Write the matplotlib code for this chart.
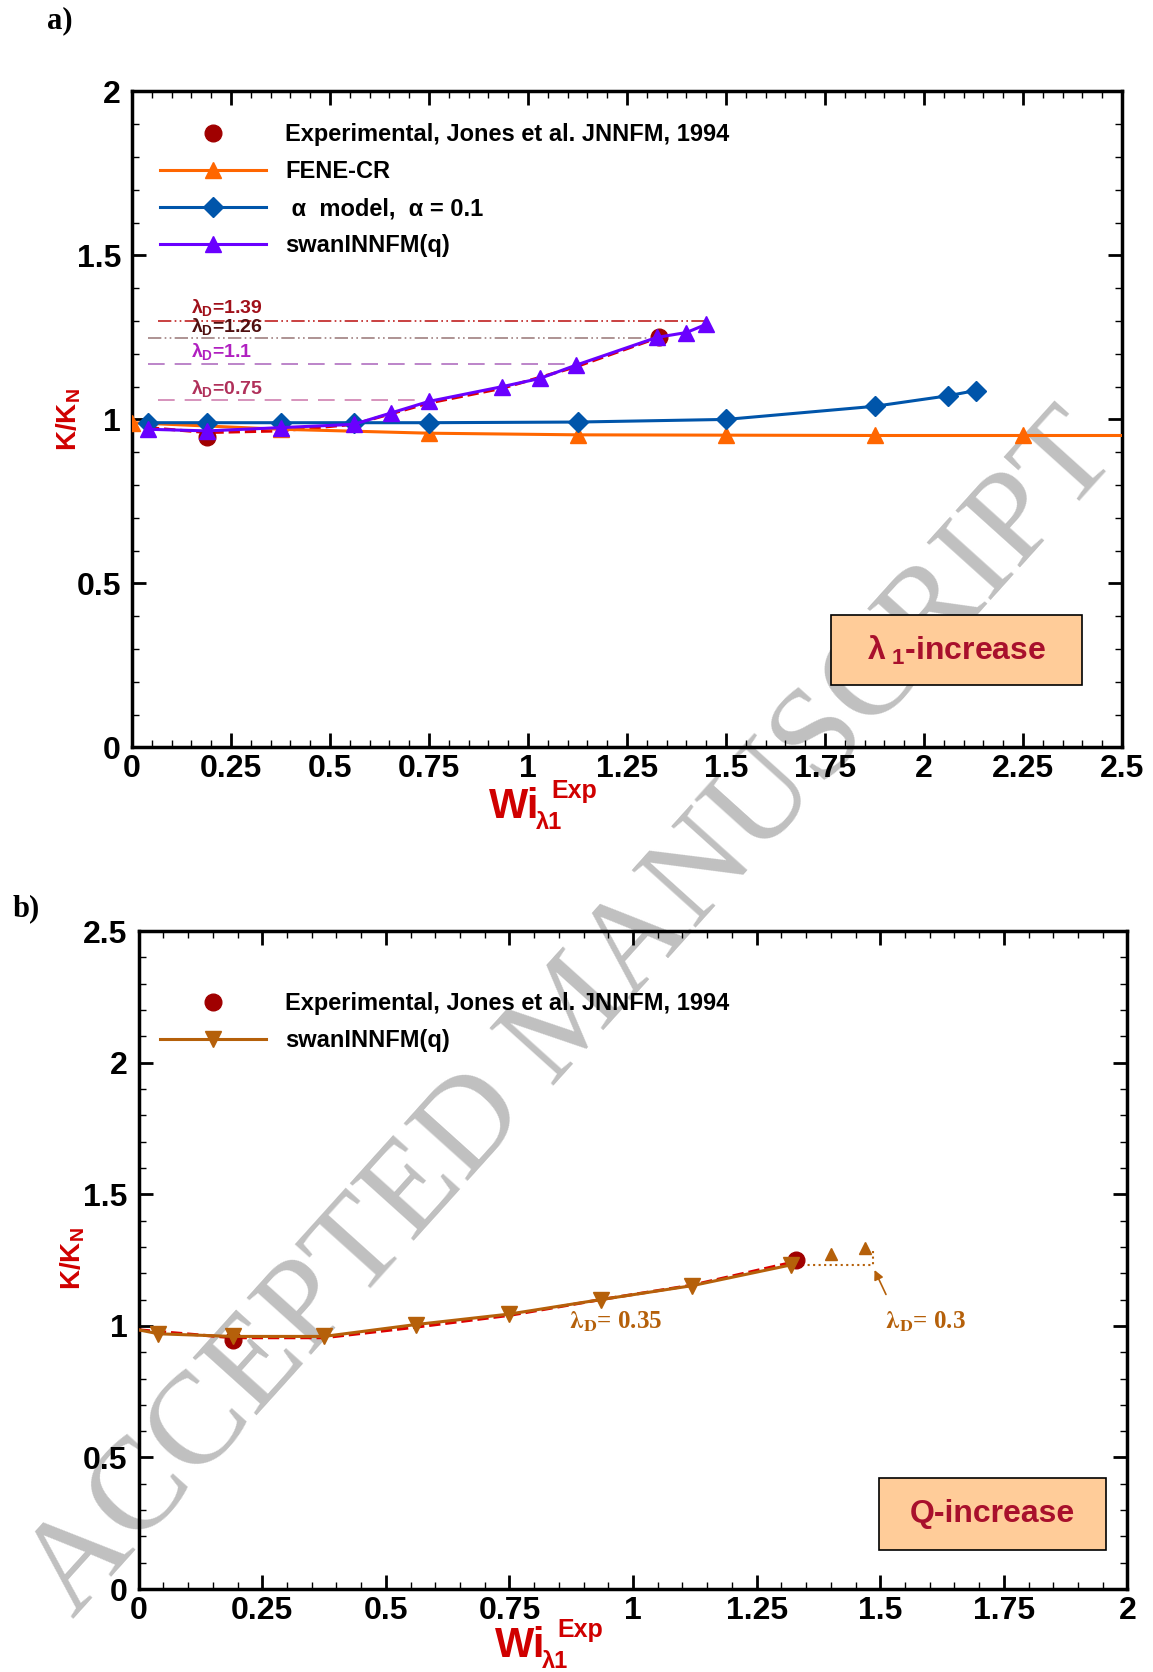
import matplotlib
matplotlib.use('Agg')
import matplotlib.pyplot as plt
from matplotlib.ticker import MultipleLocator, FuncFormatter
from matplotlib.patches import Rectangle

plt.rcParams['font.family'] = ['Liberation Sans', 'DejaVu Sans']
plt.rcParams['font.weight'] = 'bold'
plt.rcParams['mathtext.fontset'] = 'custom'
plt.rcParams['mathtext.rm'] = 'Liberation Sans:bold'
plt.rcParams['mathtext.it'] = 'Liberation Sans:bold'
plt.rcParams['mathtext.bf'] = 'Liberation Sans:bold'

# ---- data, panel a) ----
exp_x = [0.19, 1.33]
exp_y = [0.945, 1.25]

fene_x = [0.0, 0.375, 0.75, 1.125, 1.5, 1.875, 2.25, 2.5]
fene_y = [0.99, 0.97, 0.958, 0.953, 0.952, 0.951, 0.951, 0.951]

alpha_x = [0.04, 0.19, 0.375, 0.56, 0.75, 1.125, 1.5, 1.875, 2.06, 2.13]
alpha_y = [0.99, 0.99, 0.99, 0.99, 0.99, 0.992, 1.0, 1.04, 1.072, 1.088]

swan_x = [0.04, 0.19, 0.375, 0.56, 0.655, 0.75, 0.935, 1.03, 1.12, 1.325, 1.40, 1.45]
swan_y = [0.97, 0.965, 0.975, 0.985, 1.02, 1.055, 1.10, 1.125, 1.165, 1.25, 1.265, 1.29]

fit_a_x = [0.04, 0.19, 0.375, 0.56, 0.75, 0.935, 1.12, 1.33]
fit_a_y = [0.975, 0.96, 0.965, 0.985, 1.05, 1.095, 1.16, 1.25]

lam_labels = [r'$\lambda_D$=1.39', r'$\lambda_D$=1.26', r'$\lambda_D$=1.1', r'$\lambda_D$=0.75']
lam_level = [1.30, 1.247, 1.17, 1.059]
lam_x0 = [0.065, 0.04, 0.04, 0.066]
lam_x1 = [1.45, 1.30, 1.11, 0.73]
lam_text_y = [1.31, 1.25, 1.175, 1.062]

# ---- data, panel b) ----
swanb_x = [0.0, 0.04, 0.19, 0.375, 0.56, 0.75, 0.935, 1.12, 1.32]
swanb_y = [0.985, 0.97, 0.96, 0.96, 1.005, 1.045, 1.10, 1.153, 1.232]

fit_b_x = [0.0, 0.19, 0.375, 0.56, 0.75, 0.935, 1.12, 1.33]
fit_b_y = [0.985, 0.955, 0.955, 0.995, 1.04, 1.10, 1.155, 1.245]

qtip_x = [1.40, 1.47]
qtip_y = [1.272, 1.295]

fig = plt.figure(figsize=(11.53, 16.72), dpi=100)
ax1 = fig.add_axes([0.1145, 0.553, 0.8587, 0.3923])
ax2 = fig.add_axes([0.1203, 0.0496, 0.8575, 0.3935])


def style(ax, xmax, ymax):
    ax.set_facecolor('none')
    ax.set_xlim(0, xmax)
    ax.set_ylim(0, ymax)
    ax.xaxis.set_major_locator(MultipleLocator(0.25))
    ax.xaxis.set_minor_locator(MultipleLocator(0.05))
    ax.yaxis.set_major_locator(MultipleLocator(0.5))
    ax.yaxis.set_minor_locator(MultipleLocator(0.1))
    fmt = FuncFormatter(lambda v, p: '%g' % v)
    ax.xaxis.set_major_formatter(fmt)
    ax.yaxis.set_major_formatter(fmt)
    ax.tick_params(which='both', direction='in', top=True, right=True, labelsize=23)
    ax.tick_params(which='major', length=10, width=2)
    ax.tick_params(which='minor', length=5, width=1)
    ax.tick_params(axis='x', pad=5)
    ax.tick_params(axis='y', pad=8)
    for s in ax.spines.values():
        s.set_linewidth(2.5)


def wi_label(ax, dy):
    # Wi with subscript lambda1 and superscript Exp, placed piece by piece
    c = '#d00000'
    ax.text(0.3604, -0.108 + dy, 'Wi', transform=ax.transAxes, color=c, fontsize=30,
            va='baseline')
    ax.text(0.4078, -0.124 + dy, '\u03bb1', transform=ax.transAxes, color=c, fontsize=17,
            va='baseline')
    ax.text(0.4232, -0.077 + dy, 'Exp', transform=ax.transAxes, color=c, fontsize=18,
            va='baseline')


red = '#a00000'
brown = '#b5600a'

# panel a
style(ax1, 2.5, 2)
for lev, x0, x1, lab, ty, ls, lc, tc in zip(
        lam_level, lam_x0, lam_x1, lam_labels, lam_text_y,
        [(0, (8, 2, 1, 2, 1, 2)), (0, (8, 2, 1, 2, 1, 2)), (0, (10, 6)), (0, (10, 6))],
        ['#c02020', '#a08080', '#b070c0', '#d080b0'],
        ['#a0101a', '#501010', '#b020c0', '#b0305a']):
    ax1.plot([x0, x1], [lev, lev], ls=ls, color=lc, lw=1.2, zorder=2)
    ax1.text(0.15, ty, lab, color=tc, fontsize=14, va='bottom')

ax1.plot(fit_a_x, fit_a_y, '--', color='#dd0000', lw=2.2, zorder=3)
ax1.plot(exp_x, exp_y, 'o', color=red, ms=12, zorder=4,
         label='Experimental, Jones et al. JNNFM, 1994')
ax1.plot(fene_x, fene_y, '-^', color='#ff6600', lw=2.2, ms=12, markevery=list(range(7)),
         zorder=5, label='FENE-CR')
ax1.plot(alpha_x, alpha_y, '-D', color='#0055aa', lw=2.2, ms=10, zorder=5,
         label=' \u03b1  model,  \u03b1 = 0.1')
ax1.plot(swan_x, swan_y, '-^', color='#6a00ff', lw=2.2, ms=11, zorder=6,
         label='swanINNFM(q)')
ax1.legend(loc='upper left', bbox_to_anchor=(0.028, 0.952), frameon=False, fontsize=17,
           handlelength=4.5, handletextpad=0.8, labelspacing=0.6,
           borderpad=0, borderaxespad=0)

ax1.add_patch(Rectangle((1.765, 0.189), 0.635, 0.214, facecolor='#ffcc99',
                        edgecolor='black', lw=1.2, zorder=7))
ax1.text(2.0825, 0.296, r'$\lambda_{\ 1}$-increase', color='#a8102c', fontsize=23,
         ha='center', va='center', zorder=8)
wi_label(ax1, 0)
ax1.text(-0.064, 0.50, r'$\mathbf{K/K_N}$', transform=ax1.transAxes, color='#d00000',
         fontsize=20, rotation=90, ha='center', va='center')

# panel b
style(ax2, 2, 2.5)
ax2.plot(fit_b_x, fit_b_y, '--', color='#dd0000', lw=2.2, zorder=3)
ax2.plot(exp_x, exp_y, 'o', color=red, ms=12, zorder=4,
         label='Experimental, Jones et al. JNNFM, 1994')
ax2.plot(swanb_x, swanb_y, '-v', color=brown, lw=2.2, ms=11,
         markevery=list(range(1, len(swanb_x))), zorder=5, label='swanINNFM(q)')
ax2.plot([swanb_x[-1], 1.486, 1.486], [swanb_y[-1], swanb_y[-1], 1.29], ':',
         color=brown, lw=1.5, zorder=3)
ax2.plot(qtip_x, qtip_y, '^', color=brown, ms=8, zorder=4)
ax2.annotate('', xy=(1.486, 1.222), xytext=(1.514, 1.11),
             arrowprops=dict(arrowstyle='-|>', color=brown, lw=1.2, mutation_scale=14))
ax2.text(0.87, 1.015, r'$\mathbf{\lambda_D}$= 0.35', color=brown, fontsize=18,
         family='Liberation Serif', math_fontfamily='stix', va='center')
ax2.text(1.51, 1.015, r'$\mathbf{\lambda_D}$= 0.3', color=brown, fontsize=18,
         family='Liberation Serif', math_fontfamily='stix', va='center')
ax2.legend(loc='upper left', bbox_to_anchor=(0.0216, 0.907), frameon=False, fontsize=17,
           handlelength=4.5, handletextpad=0.8, labelspacing=0.6,
           borderpad=0, borderaxespad=0)
ax2.add_patch(Rectangle((1.497, 0.15), 0.46, 0.271, facecolor='#ffcc99',
                        edgecolor='black', lw=1.2, zorder=7))
ax2.text(1.727, 0.286, 'Q-increase', color='#a8102c', fontsize=23,
         ha='center', va='center', zorder=8)
wi_label(ax2, 0.004)
ax2.text(-0.067, 0.502, r'$\mathbf{K/K_N}$', transform=ax2.transAxes, color='#d00000',
         fontsize=20, rotation=90, ha='center', va='center')

fig.text(60 / 1153, 1 - 21 / 1672, 'a)', family='Liberation Serif', fontsize=22,
         ha='center', va='center')
fig.text(26 / 1153, 1 - 909 / 1672, 'b)', family='Liberation Serif', fontsize=22,
         ha='center', va='center')

# watermark
fig.text(0.497, 0.392, 'ACCEPTED MANUSCRIPT', family='Liberation Serif', fontweight='normal',
         fontsize=95, color='#c0c0c0', rotation=48, rotation_mode='anchor',
         ha='center', va='center', zorder=-1)

fig.savefig('out.png', dpi=100)
